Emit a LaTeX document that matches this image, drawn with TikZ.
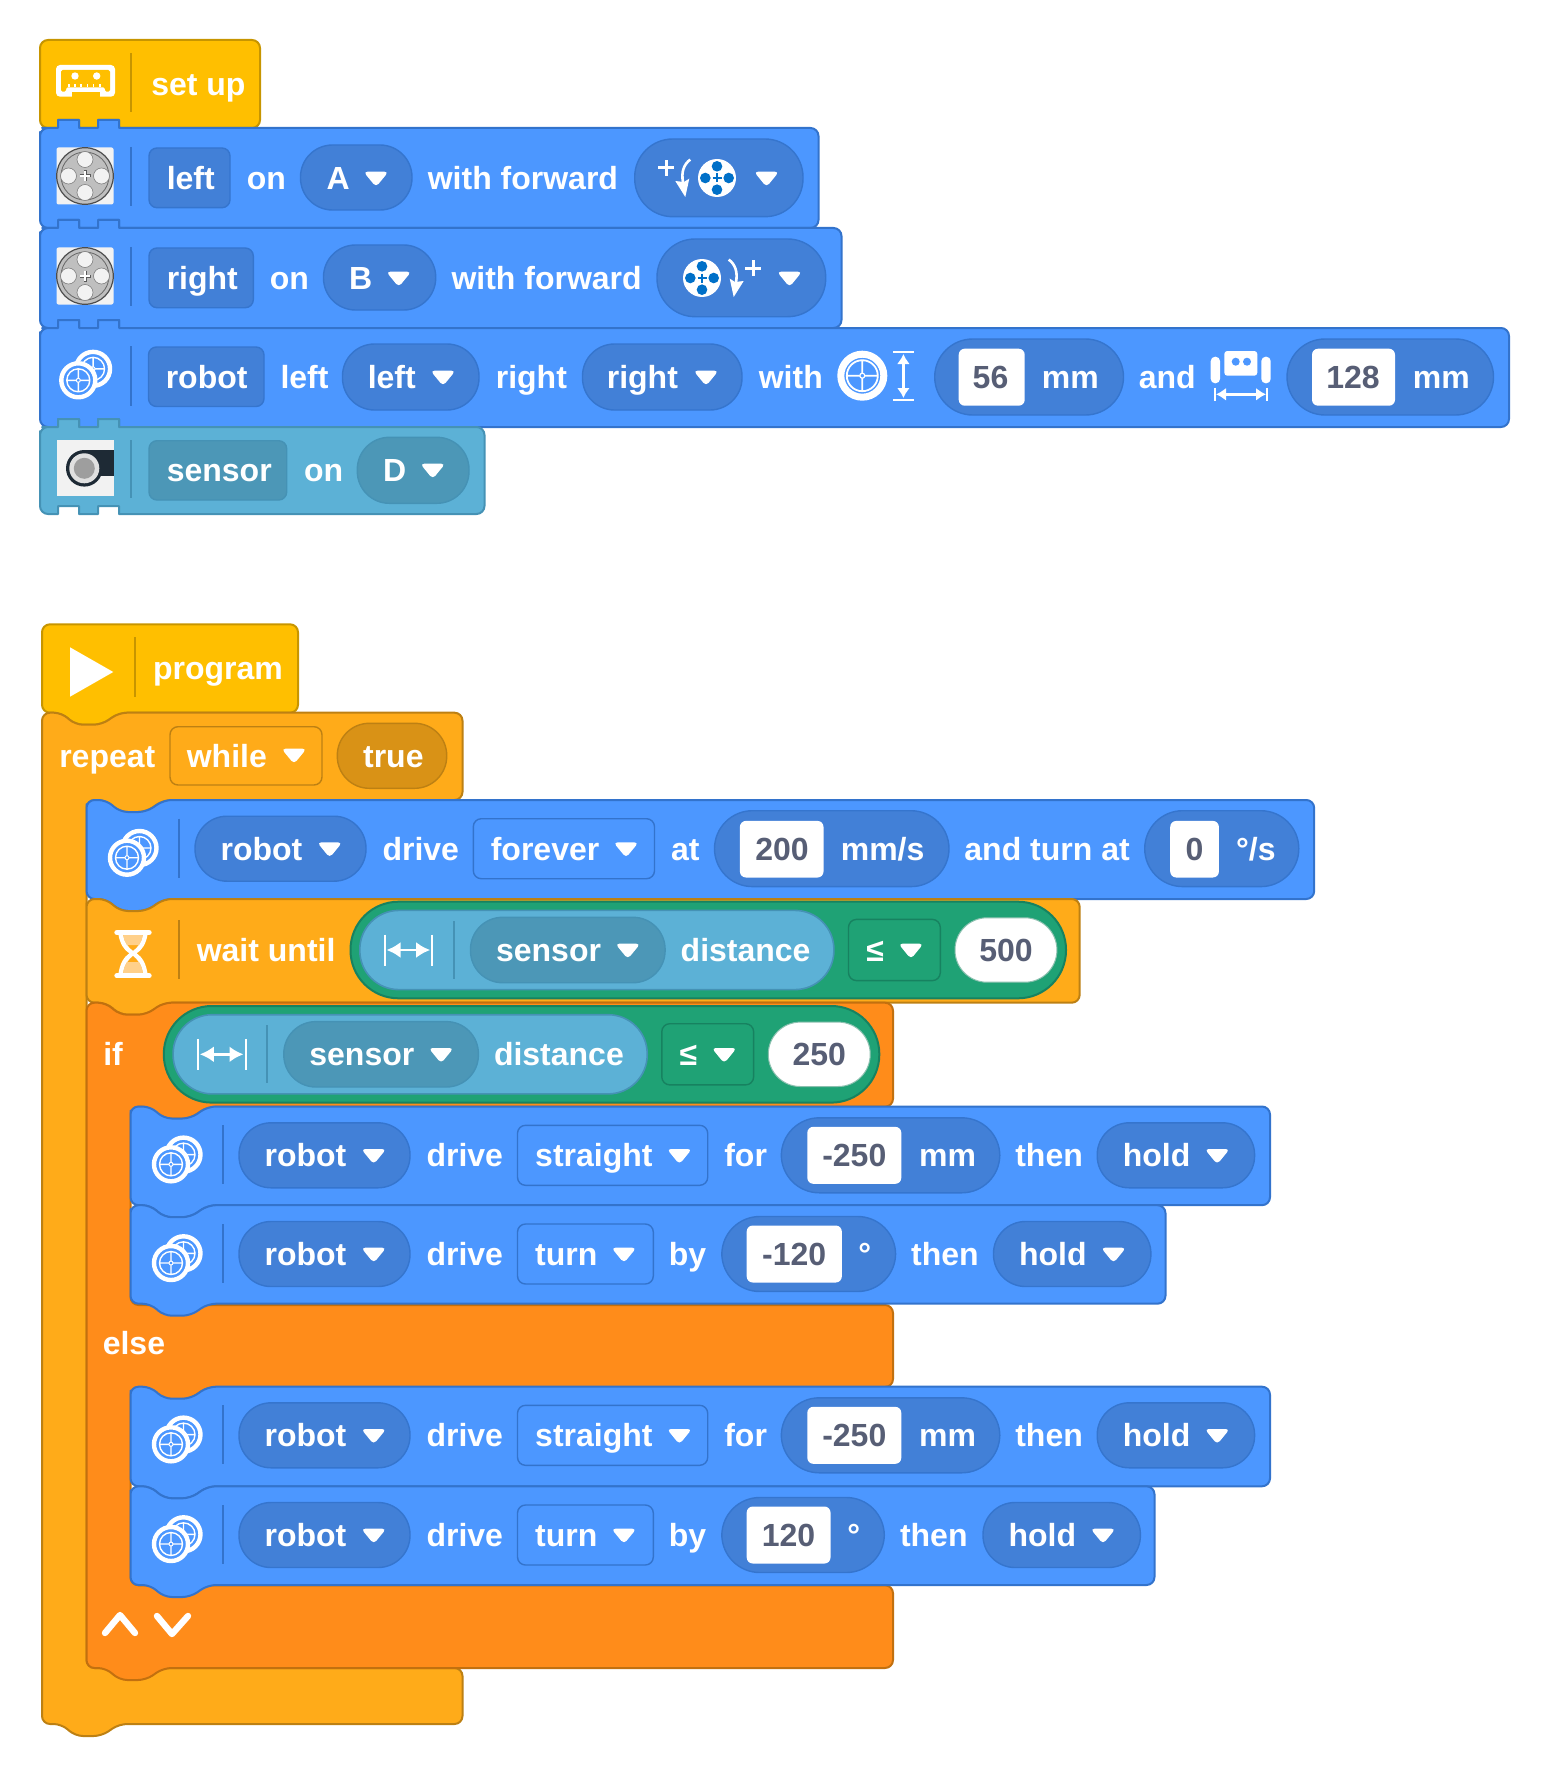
\documentclass[tikz,border=0pt]{standalone}
\usepackage{fontspec}
\setmainfont{Liberation Sans}
\usetikzlibrary{arrows.meta}
\definecolor{hatyellow}{HTML}{FFBF00}
\definecolor{hatedge}{HTML}{C79500}
\definecolor{ev3blue}{HTML}{4C97FF}
\definecolor{ev3edge}{HTML}{3373CC}
\definecolor{ev3dark}{HTML}{4280D7}
\definecolor{senscol}{HTML}{5CB1D6}
\definecolor{sensedge}{HTML}{4592B5}
\definecolor{sensdark}{HTML}{4C97B7}
\definecolor{loopcol}{HTML}{FFAB19}
\definecolor{loopedge}{HTML}{BD8013}
\definecolor{loopdark}{HTML}{D99216}
\definecolor{looptan}{HTML}{FFD08A}
\definecolor{ifcol}{HTML}{FF8C1A}
\definecolor{ifedge}{HTML}{C2700F}
\definecolor{greencol}{HTML}{1FA275}
\definecolor{greenedge}{HTML}{178260}
\definecolor{numgrey}{HTML}{575E75}
\definecolor{holeblue}{HTML}{0070C8}
\definecolor{camdark}{HTML}{1E2A35}
\tikzset{lab/.style={anchor=base west,inner sep=0pt,text=white,xshift=.2pt,yshift=-.25pt,font=\bfseries\fontsize{16}{19}\selectfont}}
\tikzset{numb/.style={anchor=base,inner sep=0pt,text=numgrey,font=\bfseries\fontsize{16}{19}\selectfont}}
\tikzset{block/.style={fill=ev3blue,draw=ev3edge,line width=1pt}}
\tikzset{sensblock/.style={fill=senscol,draw=sensedge,line width=1pt}}
\tikzset{hat/.style={fill=hatyellow,draw=hatedge,line width=1pt}}
\tikzset{loopblock/.style={fill=loopcol,draw=loopedge,line width=1pt}}
\tikzset{ifblock/.style={fill=ifcol,draw=ifedge,line width=1pt}}
\tikzset{pill/.style={fill=ev3dark,draw=ev3edge!85!ev3dark,line width=.7pt,rounded corners=16pt}}
\tikzset{bigpill/.style={pill,rounded corners=19pt}}
\tikzset{fieldbox/.style={fill=ev3dark,draw=ev3edge!85!ev3dark,line width=.7pt,rounded corners=4pt}}
\tikzset{choicebox/.style={fill=ev3blue,draw=ev3edge,line width=.7pt,rounded corners=4pt}}
\tikzset{whitebox/.style={fill=white,rounded corners=3pt}}
\tikzset{sepline/.style={draw=ev3edge,line width=1pt}}
\tikzset{dimarrow/.style={white,line width=1.4pt,{Latex[length=7pt,width=8pt]}-{Latex[length=7pt,width=8pt]}}}
\tikzset{smallarrow/.style={white,line width=1.2pt,{Latex[length=5pt,width=6.5pt]}-{Latex[length=5pt,width=6.5pt]}}}
\tikzset{ddarrow/.pic={\fill[white,rounded corners=2pt] (-12.5,-6.3) -- (12.5,-6.3) -- (0,9) -- cycle;}}
\tikzset{wheel/.pic={
  \draw[white,line width=2.2pt,fill=ev3blue] (0,0) circle (17);
  \draw[white,line width=.7pt] (0,0) circle (11.5) (-11.5,0) -- (11.5,0) (0,-11.5) -- (0,11.5);
  \draw[white,line width=.5pt,fill=ev3blue] (0,0) circle (2);
}}
\tikzset{twowheels/.pic={\pic at (12.5,-9.7) {wheel}; \pic at (0,0) {wheel};}}
\tikzset{motor/.pic={
  \fill[white!95!black,rounded corners=1pt] (-28.5,-28.5) rectangle (28.5,28.5);
  \draw[fill=black!25,draw=black!70,line width=.6pt] (0,0) circle (28.3);
  \draw[draw=black!60,line width=.4pt] (0,0) circle (24);
  \foreach \ang in {0,90,180,270} \draw[fill=white!95!black,draw=black!50,line width=.3pt] (\ang:16.5) circle (8);
  \draw[black!65,line width=1.5pt] (-5.5,0) -- (5.5,0) (0,-5.5) -- (0,5.5);
  \draw[white,line width=.7pt] (-5,0) -- (5,0) (0,-5) -- (0,5);
}}
\tikzset{spinwheel/.pic={
  \fill[white] (0,0) circle (19);
  \foreach \ang in {0,90,180,270} \fill[holeblue] (\ang:11.7) circle (5.3);
  \draw[holeblue,line width=.9pt] (-4.5,0) -- (4.5,0) (0,-4.5) -- (0,4.5);
}}
\tikzset{spinarrow/.pic={
  \draw[white,line width=1.3pt] (-26.7,-18.4) .. controls (-33,-14) and (-36,-6) .. (-34,4);
  \fill[white] (-41.7,3) -- (-33,4) -- (-27.7,0.6) -- (-31.7,19) -- cycle;
  \draw[white,line width=1.5pt] (-58.7,-10) -- (-43.3,-10) (-51,-17.7) -- (-51,-2.3);
}}
\tikzset{distance/.pic={
  \draw[white,line width=1pt] (0,-15.5) -- (0,15.5) (47.7,-15.5) -- (47.7,15.5);
  \draw[dimarrow] (2,0) -- (45.7,0);
}}
\tikzset{driverobot/.pic={
  \pic at (41,9) {twowheels};
  \draw[sepline] (93,-30) -- (93,29);
  \draw[pill] (109,-32.5) rectangle (280,32.5);
  \node[lab] (-who) at (133.8,11) {robot};
  \pic at (243.7,0) {ddarrow};
  \node[lab] (-verb) at (295.7,11) {drive};
}}
\tikzset{holdpart/.pic={
  \draw[pill] (0,-32.5) rectangle (157.4,32.5);
  \node[lab] (-hold) at (24.8,11) {hold};
  \pic at (120,0) {ddarrow};
}}
\tikzset{drivestraight/.pic={
  \draw[choicebox] (387.5,-30) rectangle (577.7,30);
  \node[lab] (-how) at (404.4,11) {straight};
  \pic at (549.4,0) {ddarrow};
  \node[lab] (-for) at (593.5,11) {for};
  \draw[bigpill] (651.3,-37.5) rectangle (869.8,37.5);
  \fill[whitebox] (677.3,-28.5) rectangle (771.3,28.5);
  \node[numb] (-dist) at (724.3,11) {-250};
  \node[lab] (-unit) at (788.3,11) {mm};
  \node[lab] (-then) at (884.5,11) {then};
  \pic (-end) at (967.2,0) {holdpart};
}}
\tikzset{sensorcheck/.pic={
  \draw[fill=greencol,draw=greenedge,line width=1pt,rounded corners=24pt] (0,-48.3) rectangle (715.5,48.3);
  \draw[fill=senscol,draw=sensedge,line width=.8pt,rounded corners=19.5pt] (9.3,-39.6) rectangle (483.4,39.6);
  \pic at (34,0) {distance};
  \draw[draw=sensedge,line width=1pt] (103.3,-29) -- (103.3,29);
  \draw[fill=sensdark,draw=sensedge,line width=.7pt,rounded corners=16pt] (120,-32.7) rectangle (314.6,32.7);
  \node[lab] (-who) at (144.8,11) {sensor};
  \pic at (277.3,0) {ddarrow};
  \node[lab] (-what) at (329.4,11) {distance};
  \draw[fill=greencol,draw=greenedge,line width=.7pt,rounded corners=4pt] (498,-30.6) rectangle (589.8,30.6);
  \node[lab] (-cmp) at (515,11) {≤};
  \pic at (560.4,0) {ddarrow};
  \draw[fill=white,draw=greenedge!50,line width=.5pt,rounded corners=16pt] (604.5,-32.2) rectangle (706.4,32.2);
  \node[numb] (-val) at (655.5,11) {#1};
}}
\newcommand{\tabblock}[5]{
  \draw[#1] (#2,#3+12) [rounded corners=4pt] -- (#2,#3) -- (#2+10,#3) [sharp corners] -- (#2+18,#3) -- (#2+18,#3-8) -- (#2+39,#3-8) -- (#2+39,#3) -- (#2+58,#3) -- (#2+58,#3-8) -- (#2+79,#3-8) -- (#2+79,#3) -- (#2+88,#3) [rounded corners=4pt] -- (#4,#3) -- (#4,#5) -- (#2+88,#5) [sharp corners] -- (#2+79,#5) -- (#2+79,#5-8) -- (#2+58,#5-8) -- (#2+58,#5) -- (#2+39,#5) -- (#2+39,#5-8) -- (#2+18,#5-8) -- (#2+18,#5) -- (#2+10,#5) [rounded corners=4pt] -- (#2,#5) -- cycle;
}
\newcommand{\notchblock}[5]{
  \draw[#1,rounded corners=4pt] (#2,#3+12) -- (#2,#3) -- (#2+20,#3) -- (#2+33.3,#3+12) -- (#2+60,#3+12) -- (#2+77.3,#3) -- (#4,#3) -- (#4,#5) -- (#2+77.3,#5) -- (#2+60,#5+12) -- (#2+33.3,#5+12) -- (#2+20,#5) -- (#2,#5) -- cycle;
}

\begin{document}
\begin{tikzpicture}[x=0.5pt,y=-0.5pt,line join=round]
\useasboundingbox (0,0) rectangle (1549,1776);

% set up stack
\draw[hat] (40,60) [rounded corners=4pt] -- (40,40) -- (260,40) -- (260,128) -- (128,128) [sharp corners] -- (119,128) -- (119,120) -- (98,120) -- (98,128) -- (79,128) -- (79,120) -- (58,120) -- (58,128) -- (50,128) [rounded corners=4pt] -- (40,128) -- cycle;
\fill[white,rounded corners=2pt] (56,65) rectangle (115,96.7);
\fill[hatyellow,rounded corners=.8pt] (61,70) -- (110,70) -- (110,91.7) -- (105,91.7) -- (105,87.3) -- (66,87.3) -- (66,91.7) -- (61,91.7) -- cycle;
\fill[hatyellow] (71.7,92.3) rectangle (100,97.5);
\foreach \tx in {68,74.2,80.4,86.6,92.8,99} \fill[white] (\tx,84.5) rectangle (\tx+1.6,87.5);
\fill[white] (75,76) circle (3.7) (96.7,76) circle (3.7);
\draw[hatedge,line width=1pt] (130.7,53) -- (130.7,112);
\node[lab] (setup) at (150.5,95) {set up};

\tabblock{block}{40}{128}{818.5}{228}
\pic at (85,176) {motor};
\draw[sepline] (130.7,147) -- (130.7,206);
\draw[fieldbox] (149,148) rectangle (230,207.7);
\node[lab] (leftname) at (166,189.5) {left};
\node[lab] (lefton) at (246,189.5) {on};
\draw[pill] (300.5,145) rectangle (412,210);
\node[lab] (portA) at (325.7,189.5) {A};
\pic at (376,178) {ddarrow};
\node[lab] (leftdir) at (427,189.5) {with forward};
\draw[bigpill] (634.7,139) rectangle (803,216.7);
\pic at (717,178) {spinarrow};
\pic at (717,178) {spinwheel};
\pic at (766.5,178) {ddarrow};

\tabblock{block}{40}{228}{841.5}{328}
\pic at (85,276) {motor};
\draw[sepline] (130.7,247) -- (130.7,306);
\draw[fieldbox] (149,248) rectangle (253.3,307.7);
\node[lab] (rightname) at (166,289) {right};
\node[lab] (righton) at (269,289) {on};
\draw[pill] (323.5,245) rectangle (435.7,310);
\node[lab] (portB) at (348.3,289) {B};
\pic at (398.7,278) {ddarrow};
\node[lab] (rightdir) at (450.7,289) {with forward};
\draw[bigpill] (657,239) rectangle (825.7,316.7);
\pic[xscale=-1] at (702,278) {spinarrow};
\pic at (702,278) {spinwheel};
\pic at (789.5,278) {ddarrow};

\tabblock{block}{40}{328}{1509}{427}
\pic[scale=1.18] at (78.3,380.3) {twowheels};
\draw[sepline] (130.7,346) -- (130.7,406);
\draw[fieldbox] (148.5,347) rectangle (264,406.5);
\node[lab] (robotname) at (165,388) {robot};
\node[lab] (robotleft) at (279.7,388) {left};
\draw[pill] (342.5,344) rectangle (479,410);
\node[lab] (leftmotor) at (367,388) {left};
\pic at (443,377) {ddarrow};
\node[lab] (robotright) at (495,388) {right};
\draw[pill] (582.5,344) rectangle (742,410);
\node[lab] (rightmotor) at (606,388) {right};
\pic at (706,377) {ddarrow};
\node[lab] (robotwith) at (758,388) {with};
\draw[white,line width=3.5pt,fill=ev3blue] (862.3,375.7) circle (21.5);
\draw[white,line width=.9pt] (862.3,375.7) circle (15.5) (846.8,375.7) -- (877.8,375.7) (862.3,360.2) -- (862.3,391.2);
\draw[white,line width=.6pt,fill=ev3blue] (862.3,375.7) circle (2.5);
\draw[white,line width=1pt] (893.3,352) -- (913.7,352) (893.3,400) -- (913.7,400);
\draw[smallarrow] (903.4,354) -- (903.4,398);
\draw[bigpill] (934.7,339) rectangle (1123.5,415);
\fill[whitebox] (958.7,348.7) rectangle (1024.7,405.7);
\node[numb] (wheeldia) at (990.5,388) {56};
\node[lab] (wheelmm) at (1041,388) {mm};
\node[lab] (robotand) at (1138,388) {and};
\fill[white,rounded corners=2.2pt] (1210.7,356.7) rectangle (1220,383.3) (1261.3,356.7) rectangle (1270.7,383.3);
\fill[white,rounded corners=1.5pt] (1224.3,351) rectangle (1257.3,375.7);
\fill[ev3blue] (1235.7,361.7) circle (4) (1247,361.7) circle (4);
\draw[white,line width=.7pt] (1215,387.7) -- (1215,401) (1267,387.7) -- (1267,401);
\draw[smallarrow] (1216,394.3) -- (1266,394.3);
\draw[bigpill] (1287,339) rectangle (1493.5,415);
\fill[whitebox] (1312,348.7) rectangle (1395,405.7);
\node[numb] (trackwidth) at (1353,388) {128};
\node[lab] (trackmm) at (1412,388) {mm};

\tabblock{sensblock}{40}{427}{484.5}{514}
\fill[white!95!black] (56.7,440) rectangle (113.7,496);
\fill[camdark] (84.3,449.5) rectangle (113.7,475.7);
\fill[camdark] (84.3,468.3) circle (18.3);
\fill[black!12] (84.3,468.3) circle (15);
\fill[black!38] (84.3,468.3) circle (10.5);
\draw[draw=sensedge,line width=1pt] (130.7,440) -- (130.7,498);
\draw[fill=sensdark,draw=sensedge,line width=.7pt,rounded corners=4pt] (149,440.7) rectangle (286.7,500);
\node[lab] (sensorname) at (166,481) {sensor};
\node[lab] (sensoron) at (303.3,481) {on};
\draw[fill=sensdark,draw=sensedge,line width=.7pt,rounded corners=16pt] (357.3,437.3) rectangle (469,503.3);
\node[lab] (portD) at (382.3,481) {D};
\pic at (432.7,470) {ddarrow};

% program stack
\draw[hat,rounded corners=4pt,yshift=-.5pt] (42,640) -- (42,623.3) -- (298,623.3) -- (298,711.7) -- (119,711.7) -- (101.7,723.7) -- (75,723.7) -- (61.7,711.7) -- (42,711.7) -- cycle;
\fill[white] (70,647.3) -- (113.3,672) -- (70,696.7) -- cycle;
\draw[hatedge,line width=1pt] (135,637) -- (135,696.7);
\node[lab] (program) at (152.2,679) {program};

\draw[loopblock,rounded corners=4pt,yshift=-.5pt] (42,730) -- (42,711.7) -- (61.7,711.7) -- (75,723.7) -- (101.7,723.7) -- (119,711.7) -- (462.5,711.7) -- (462.5,799) -- (163.3,799) -- (146,811) -- (119.3,811) -- (106,799) -- (86.5,799) -- (86.5,1667) -- (462.5,1667) -- (462.5,1723) -- (119,1723) -- (101.7,1735) -- (75,1735) -- (61.7,1723) -- (42,1723) -- cycle;
\node[lab] (repeat) at (58.5,767.2) {repeat};
\draw[fill=loopcol,draw=loopedge,line width=.7pt,rounded corners=4pt] (170,726.7) rectangle (322,785);
\node[lab] (while) at (186,767.2) {while};
\pic at (294,755) {ddarrow};
\draw[fill=loopdark,draw=loopedge,line width=.7pt,rounded corners=16pt] (337.3,723.3) rectangle (446.7,788.3);
\node[lab] (true) at (362.3,767.2) {true};

\notchblock{block}{86.5}{800}{1314.2}{899}
\pic (drive) at (86,848.7) {driverobot};
\draw[choicebox] (473.3,818.7) rectangle (654.5,878.7);
\node[lab] (forever) at (490,860) {forever};
\pic at (626,848.7) {ddarrow};
\node[lab] (at) at (670.3,860) {at};
\draw[bigpill] (714.5,810.7) rectangle (949,886.6);
\fill[whitebox] (739.9,820.9) rectangle (823.5,877.5);
\node[numb] (speed) at (782,860) {200};
\node[lab] (speedunit) at (840,860) {mm/s};
\node[lab] (andturn) at (963.6,860) {and turn at};
\draw[bigpill] (1144.7,810.7) rectangle (1298.8,886.6);
\fill[whitebox] (1170.2,820.9) rectangle (1218.9,877.5);
\node[numb] (turnrate) at (1194.5,860) {0};
\node[lab] (turnunit) at (1235.3,860) {°/s};

\notchblock{loopblock}{86.5}{899}{1079.7}{1002.7}
\fill[white] (118.3,934) .. controls (120,944) and (124,950) .. (129.3,953.3) .. controls (124,957) and (120,963) .. (118.3,974.3) -- (147.7,974.3) .. controls (146,963) and (142,957) .. (136.7,953.3) .. controls (142,950) and (146,944) .. (147.7,934) -- cycle;
\fill[loopcol] (123.3,935) .. controls (124,942) and (129,948) .. (133,950.7) .. controls (137,948) and (142,942) .. (142.7,935) -- cycle;
\fill[loopcol] (123.3,973) .. controls (124,965) and (129,959) .. (133,956) .. controls (137,959) and (142,965) .. (142.7,973) -- cycle;
\fill[looptan] (123.3,935) .. controls (123.6,939) and (125,942) .. (127,945) -- (139,945) .. controls (141,942) and (142.4,939) .. (142.7,935) -- cycle;
\fill[looptan] (123.3,973) .. controls (123.6,969) and (125,965) .. (127,962) -- (139,962) .. controls (141,965) and (142.4,969) .. (142.7,973) -- cycle;
\draw[white,line width=2.6pt,line cap=round] (116.9,932.5) -- (149.1,932.5) (116.9,975.8) -- (149.1,975.8);
\draw[loopedge,line width=1pt] (179,920) -- (179,979);
\node[lab] (waituntil) at (196,961) {wait until};
\pic (waitcheck) at (350.5,950) {sensorcheck=500};

\draw[ifblock,rounded corners=4pt,yshift=-.5pt] (86.5,1020) -- (86.5,1001.7) -- (106,1001.7) -- (119.3,1013.7) -- (146,1013.7) -- (163.3,1001.7) -- (893,1001.7) -- (893,1105.7) -- (207.3,1105.7) -- (190,1117.7) -- (163.3,1117.7) -- (150,1105.7) -- (130.5,1105.7) -- (130.5,1304) -- (893,1304) -- (893,1386) -- (207.3,1386) -- (190,1398) -- (163.3,1398) -- (150,1386) -- (130.5,1386) -- (130.5,1584.3) -- (893,1584.3) -- (893,1667) -- (163.3,1667) -- (146,1679) -- (119.3,1679) -- (106,1667) -- (86.5,1667) -- cycle;
\node[lab] (if) at (102.5,1065) {if};
\pic (ifcheck) at (163.8,1054.3) {sensorcheck=250};
\node[lab] (else) at (102,1354) {else};
\draw[white,line width=3.2pt,line cap=round,line join=round] (105,1633) -- (120,1615) -- (135,1633);
\draw[white,line width=3.2pt,line cap=round,line join=round] (157,1616) -- (172,1634) -- (188,1616);

\notchblock{block}{130.5}{1106.5}{1270}{1205.2}
\pic (driveA) at (130,1155.3) {driverobot};
\pic (moveA) at (130,1155.3) {drivestraight};

\notchblock{block}{130.5}{1205.2}{1165.5}{1303.7}
\pic (driveB) at (130,1254) {driverobot};
\draw[choicebox] (517.5,1224) rectangle (653.3,1284);
\node[lab] (turnB) at (534.4,1264.7) {turn};
\pic at (623.9,1254) {ddarrow};
\node[lab] (byB) at (668,1264.7) {by};
\draw[bigpill] (721.8,1216.5) rectangle (895.6,1291.5);
\fill[whitebox] (746.7,1225.5) rectangle (841.8,1282.5);
\node[numb] (angleB) at (794.2,1265) {-120};
\node[lab] (degB) at (857.6,1264.7) {°};
\node[lab] (thenB) at (910.4,1264.7) {then};
\pic (endB) at (993.5,1254) {holdpart};

\notchblock{block}{130.5}{1386.7}{1270}{1486.3}
\pic (driveC) at (130,1435.3) {driverobot};
\pic (moveC) at (130,1435.3) {drivestraight};

\notchblock{block}{130.5}{1486.3}{1154.5}{1585}
\pic (driveD) at (130,1535) {driverobot};
\draw[choicebox] (517.5,1505) rectangle (653.3,1565);
\node[lab] (turnD) at (534.4,1545.7) {turn};
\pic at (623.9,1535) {ddarrow};
\node[lab] (byD) at (668,1545.7) {by};
\draw[bigpill] (721.8,1497.5) rectangle (884.3,1572.5);
\fill[whitebox] (746.7,1506.5) rectangle (830.5,1563.5);
\node[numb] (angleD) at (788.5,1546) {120};
\node[lab] (degD) at (846.5,1545.7) {°};
\node[lab] (thenD) at (899.2,1545.7) {then};
\pic (endD) at (983,1535) {holdpart};

\end{tikzpicture}
\end{document}
